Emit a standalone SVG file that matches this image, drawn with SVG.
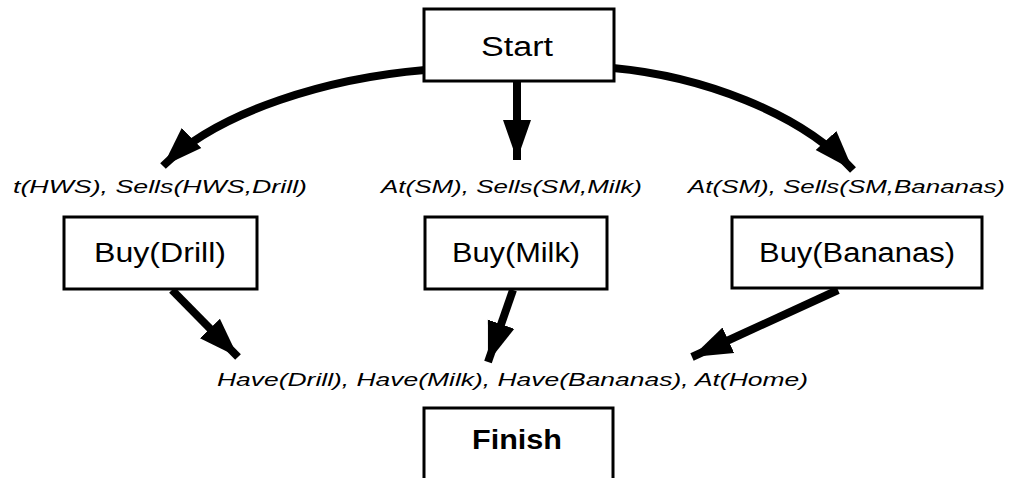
<svg xmlns="http://www.w3.org/2000/svg" width="1013" height="478" viewBox="0 0 1013 478">
<style>
.box{fill:#fff;stroke:#000;stroke-width:3}
.nl{font-family:"Liberation Sans",Arial,sans-serif;font-size:27px;fill:#000;text-anchor:middle}
.lb{font-family:"Liberation Sans",Arial,sans-serif;font-size:19px;font-style:italic;fill:#000}
.ed{fill:none;stroke:#000;stroke-width:8}
</style>
<defs>
<marker id="ah" markerUnits="userSpaceOnUse" markerWidth="44" markerHeight="34" refX="40" refY="17" orient="auto">
<path d="M0,3 L40,17 L0,31 Z" fill="#000"/>
</marker>
</defs>
<rect width="1013" height="478" fill="#fff"/>
<g id="connectors">
<path class="ed" d="M425,70 C330,78 220,110 163,166" marker-end="url(#ah)"/>
<path class="ed" d="M517,80 L517,160" marker-end="url(#ah)"/>
<path class="ed" d="M613,68 C700,76 800,112 853,170" marker-end="url(#ah)"/>
<path class="ed" d="M172,290 L238,357" marker-end="url(#ah)"/>
<path class="ed" d="M513,290 L488,362" marker-end="url(#ah)"/>
<path class="ed" d="M838,290 L692,357" marker-end="url(#ah)"/>
</g>
<g id="start">
<rect class="box" x="424" y="9" width="190" height="72"/>
<text class="nl" x="517" y="56" font-size="29" textLength="72" lengthAdjust="spacingAndGlyphs">Start</text>
</g>
<g id="labels">
<text class="lb" x="13" y="193" textLength="294" lengthAdjust="spacingAndGlyphs">t(HWS), Sells(HWS,Drill)</text>
<text class="lb" x="381" y="193" textLength="261" lengthAdjust="spacingAndGlyphs">At(SM), Sells(SM,Milk)</text>
<text class="lb" x="688" y="193" textLength="317" lengthAdjust="spacingAndGlyphs">At(SM), Sells(SM,Bananas)</text>
</g>
<g id="buy-drill">
<rect class="box" x="64" y="217" width="193" height="72"/>
<text class="nl" x="160" y="262" textLength="132" lengthAdjust="spacingAndGlyphs">Buy(Drill)</text>
</g>
<g id="buy-milk">
<rect class="box" x="425" y="217" width="182" height="72"/>
<text class="nl" x="516" y="262" textLength="128" lengthAdjust="spacingAndGlyphs">Buy(Milk)</text>
</g>
<g id="buy-bananas">
<rect class="box" x="732" y="217" width="250" height="71"/>
<text class="nl" x="857" y="262" textLength="196" lengthAdjust="spacingAndGlyphs">Buy(Bananas)</text>
</g>
<g id="goal">
<text class="lb" x="217" y="386" textLength="591" lengthAdjust="spacingAndGlyphs">Have(Drill), Have(Milk), Have(Bananas), At(Home)</text>
</g>
<g id="finish">
<rect class="box" x="424" y="408" width="189" height="80"/>
<text class="nl" x="517" y="449" font-weight="bold" textLength="90" lengthAdjust="spacingAndGlyphs">Finish</text>
</g>
</svg>
